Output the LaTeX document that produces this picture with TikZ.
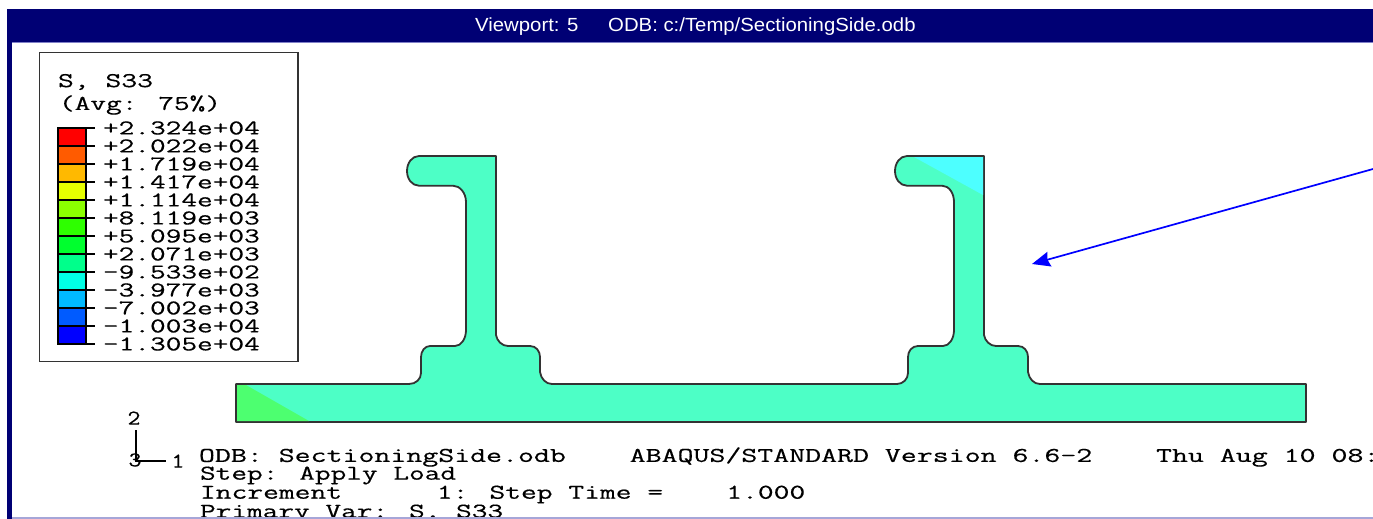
\documentclass[tikz,border=0pt]{standalone}
\usepackage{fontspec}
\usepackage{graphicx}
\setmainfont{Liberation Sans}
\newfontfamily\abqfont[FakeBold=0.35]{Latin Modern Mono}
\usetikzlibrary{arrows.meta}
\definecolor{navybar}{HTML}{000074}
\definecolor{barline}{HTML}{8080C8}
\definecolor{mint}{HTML}{4DFFC6}
\definecolor{cornergreen}{HTML}{4DFF70}
\definecolor{cornercyan}{HTML}{4DFFFF}
\definecolor{edgegray}{HTML}{333333}
\newcommand{\legtxt}[1]{\scalebox{1.45}[1]{\abqfont\fontsize{21}{21}\selectfont #1}}
\newcommand{\statustxt}[2][1.45]{\scalebox{#1}[1]{\abqfont\fontsize{21}{21}\selectfont #2}}
\newcommand{\titletxt}[1]{\scalebox{1.07}[1]{\fontsize{19}{19}\selectfont #1}}
\tikzset{
  legendlabel/.style={anchor=west,inner sep=0pt,outer sep=0pt,text=black},
  statusline/.style={anchor=west,inner sep=0pt,outer sep=0pt,text=black},
  titletext/.style={inner sep=0pt,text=white},
  sectionshape/.style={fill=mint,draw=edgegray,line width=1.8pt,line join=round},
  cell/.style={draw=black,line width=1.2pt},
  tick/.style={draw=black,line width=1.2pt},
  triad/.style={draw=black,line width=1.1pt},
  pointer/.style={draw=blue,line width=1.7pt,-{Stealth[inset=2pt,length=18pt,width=15pt]}}
}
\begin{document}
\begin{tikzpicture}[x=1pt,y=-1pt]
\useasboundingbox (0,0) rectangle (1373,519);
\fill[white] (0,0) rectangle (1373,519);
% frame
\fill[navybar] (7,9) rectangle (1373,42);
\fill[navybar] (7,9) rectangle (12,519);
\fill[barline] (12,42) rectangle (1373,43.5);
\node[titletext,anchor=west] (tvp) at (475,27) {\titletxt{Viewport: 5}};
\node[titletext,anchor=west] (todb) at (608,27) {\titletxt{ODB: c:/Temp/SectioningSide.odb}};
% legend
\draw[edgegray,line width=1.6pt,fill=white] (39.5,52.5) rectangle (298,361.5);
\node[legendlabel] (lt1) at (58,82) {\scalebox{1.01}[1]{\legtxt{S, S33}}};
\node[legendlabel] (lt2) at (59,105) {\legtxt{(Avg: 75\%)}};
\foreach \c [count=\i from 0] in {FF0000,FF5B00,FFB900,E6FF00,8BFF00,2EFF00,00FF2E,00FF8B,00FFE6,00B9FF,005BFF,0000FF}{
  \definecolor{cc}{HTML}{\c}
  \draw[cell,fill=cc] (58,128+18*\i) rectangle (86,146+18*\i);
}
\foreach \v [count=\i from 0] in {+2.324e+04,+2.022e+04,+1.719e+04,+1.417e+04,+1.114e+04,+8.119e+03,+5.095e+03,+2.071e+03,-9.533e+02,-3.977e+03,-7.002e+03,-1.003e+04,-1.305e+04}{
  \draw[tick] (58,128+18*\i) -- (95,128+18*\i);
  \node[legendlabel] (lab\i) at (103,128+18*\i) {\legtxt{\v}};
}
% section
\path[sectionshape]
  (236,384) -- (409,384)
  .. controls (416,384) and (421,379) .. (421,373) -- (421,357)
  .. controls (421,351) and (425,346) .. (430,346) -- (455,346)
  .. controls (461,346) and (466,339) .. (466,330) -- (466,202)
  .. controls (466,193) and (460,185.7) .. (453,185.7) -- (419,185.7)
  .. controls (412,185.7) and (407,179) .. (407,171)
  .. controls (407,163) and (412,156) .. (419,156) -- (496,156) -- (496,335)
  .. controls (497,341) and (502,346) .. (508,346) -- (530,346)
  .. controls (536,346) and (540,351) .. (540,357) -- (540,372)
  .. controls (541,379) and (546,384) .. (552,384) -- (897,384)
  .. controls (903,384) and (908,379) .. (908,373) -- (908,357)
  .. controls (908,351) and (912,346) .. (918,346) -- (943,346)
  .. controls (949,346) and (954,339) .. (954,330) -- (954,202)
  .. controls (954,193) and (949,185.7) .. (942,185.7) -- (907,185.7)
  .. controls (900,185.7) and (895,179) .. (895,171)
  .. controls (895,163) and (900,156) .. (907,156) -- (984,156) -- (984,335)
  .. controls (985,341) and (990,346) .. (996,346) -- (1018,346)
  .. controls (1024,346) and (1028,351) .. (1028,357) -- (1028,372)
  .. controls (1029,379) and (1034,384) .. (1040,384) -- (1306,384) -- (1306,422) -- (236,422) -- cycle;
\fill[cornergreen] (237,385) -- (246,385) -- (309,421) -- (237,421) -- cycle;
\fill[cornercyan] (914,157) -- (983,157) -- (983,195) -- cycle;
% triad
\coordinate (origin) at (136,461);
\coordinate (axis2) at (136,430);
\coordinate (axis1) at (166,461);
\node[inner sep=0pt] (two) at (134,418) {\scalebox{1.2}[1]{\abqfont\fontsize{21}{21}\selectfont 2}};
\node[inner sep=0pt] (three) at (135,460) {\scalebox{1.2}[1]{\abqfont\fontsize{21}{21}\selectfont 3}};
\node[inner sep=0pt] (one) at (178,461) {\scalebox{1.2}[1]{\abqfont\fontsize{21}{21}\selectfont 1}};
\draw[triad] (axis2) -- (origin) -- (axis1);
% status
\begin{scope}
\clip (12,43) rectangle (1373,516.5);
\node[statusline] (s1) at (199,457) {\statustxt[1.475]{ODB: SectioningSide.odb~~~~ABAQUS/STANDARD Version 6.6-2~~~~Thu Aug 10 08:}};
\node[statusline] (s2) at (200,475.5) {\statustxt{Step: Apply Load}};
\node[statusline] (s3) at (200,494.5) {\statustxt[1.46]{Increment~~~~~~1: Step Time =~~~~1.000}};
\node[statusline] (s4) at (200,513.5) {\statustxt{Primary Var: S, S33}};
\end{scope}
\fill[barline!70!white] (12,516.5) rectangle (1373,519);
% arrow
\coordinate (ptrstart) at (1373,169);
\coordinate (ptrend) at (1032,264);
\draw[pointer] (ptrstart) -- (ptrend);
\end{tikzpicture}
\end{document}
